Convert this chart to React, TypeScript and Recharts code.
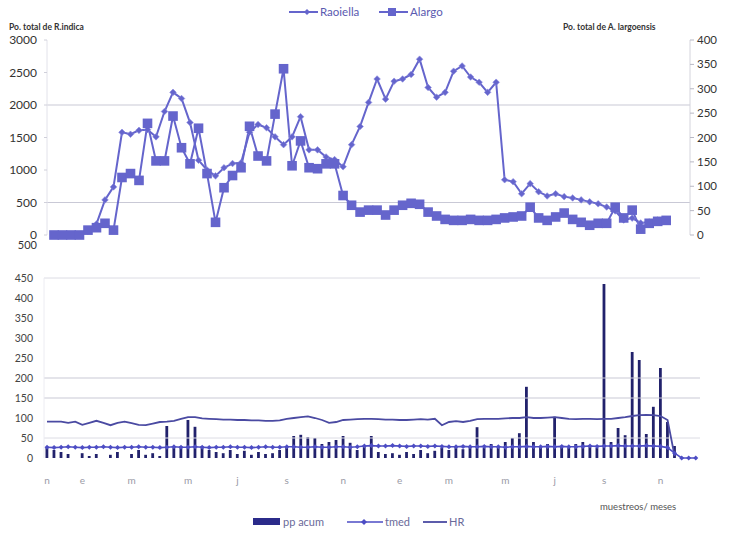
import React from 'react';
import { LineChart, ComposedChart, Line, Bar, XAxis, YAxis, ReferenceLine } from 'recharts';

// Población total por muestreo (R. indica en eje izquierdo, A. largoensis en eje derecho)
const raoiella = [
  0, 0, 0, 0, 60, 170, 540, 740, 1580, 1550, 1610, 1620, 1510, 1900, 2195, 2100, 1730, 1150, 1000, 910,
  1035, 1100, 1110, 1580, 1700, 1650, 1510, 1390, 1510, 1820, 1310, 1310, 1200, 1160, 1050, 1390, 1670, 2040, 2400, 2090,
  2365, 2400, 2470, 2705, 2270, 2120, 2195, 2520, 2600, 2430, 2350, 2195, 2350, 850, 820, 635, 790, 665, 600, 635,
  590, 570, 540, 510, 480, 430, 370, 230, 260, 185, 200, 230, 230,
];
const alargo = [
  0, 0, 0, 0, 10, 15, 24, 10, 118, 126, 112, 229, 152, 152, 244, 179, 146, 219, 126, 26,
  97, 122, 138, 223, 162, 152, 248, 341, 142, 193, 138, 136, 146, 146, 81, 61, 47, 51, 51, 41,
  51, 61, 65, 63, 47, 39, 32, 30, 30, 32, 30, 30, 32, 35, 37, 39, 57, 35, 30, 37,
  45, 32, 26, 20, 24, 24, 57, 35, 51, 12, 24, 28, 30,
];

// Variables climáticas por muestreo
const ppAcum = [
  25, 20, 15, 10, 0, 12, 5, 10, 0, 8, 15, 0, 10, 20, 8, 12, 5, 80, 25, 30,
  95, 78, 30, 20, 15, 12, 20, 10, 18, 8, 15, 10, 12, 20, 30, 55, 58, 52, 50, 35,
  40, 45, 55, 38, 20, 30, 55, 15, 10, 12, 8, 15, 10, 20, 12, 18, 25, 20, 30, 22,
  28, 77, 25, 35, 30, 40, 50, 62, 178, 40, 30, 35, 103, 30, 25, 35, 40, 30, 25, 435,
  40, 75, 57, 265, 245, 60, 128, 225, 90, 30, 0, 0, 0,
];
const tmed = [
  27, 26, 27, 28, 27, 26, 27, 27, 28, 27, 26, 27, 27, 28, 27, 27, 26, 27, 28, 27,
  27, 28, 27, 26, 27, 27, 28, 27, 27, 26, 27, 28, 27, 27, 28, 28, 27, 27, 28, 27,
  27, 28, 28, 27, 28, 30, 31, 30, 30, 31, 30, 29, 30, 30, 29, 30, 29, 28, 28, 29,
  28, 28, 29, 28, 28, 27, 28, 28, 29, 28, 28, 29, 28, 29, 28, 28, 29, 30, 29, 30,
  30, 31, 30, 30, 30, 31, 30, 29, 26, 12, 0, 0, 0,
];
const hr: (number | null)[] = [
  91, 91, 91, 88, 91, 83, 88, 93, 88, 82, 88, 91, 87, 83, 82, 86, 90, 91, 93, 98,
  102, 102, 99, 98, 97, 96, 96, 95, 95, 94, 94, 93, 93, 94, 98, 100, 102, 104, 100, 95,
  88, 90, 95, 96, 97, 98, 98, 97, 96, 96, 95, 95, 96, 97, 96, 98, 82, 90, 92, 90,
  93, 97, 98, 98, 98, 99, 100, 100, 102, 100, 100, 101, 102, 100, 98, 97, 98, 98, 97, 98,
  98, 100, 102, 105, 107, 108, 107, 105, 95, 5, null, null, null,
];

const monthLabels = ['n', 'e', 'm', 'm', 'j', 's', 'n', 'e', 'm', 'm', 'j', 's', 'n'];
const monthStartSample = [0, 5, 12, 20, 27, 34, 42, 50, 57, 65, 72, 79, 87];

const leftTicks = [0, 500, 1000, 1500, 2000, 2500, 3000];
const rightTicks = [0, 50, 100, 150, 200, 250, 300, 350, 400];
const lowerTicks = [0, 50, 100, 150, 200, 250, 300, 350, 400, 450];

const populationData = raoiella.map((r, i) => ({ idx: i, raoiella: r, alargo: alargo[i] }));
const climateData = ppAcum.map((p, i) => ({ idx: i, pp: p, tmed: tmed[i], hr: hr[i] ?? null }));

const FONT = 'Lato, "Open Sans", sans-serif';
const LINE_BLUE = '#6565cc';
const TMED_BLUE = '#4d4dc4';
const HR_BLUE = '#4a4aa2';
const PP_NAVY = '#22226c';
const GRID = '#c9c9d6';

const diamondPath = (cx: number, cy: number, r: number) =>
  `M${cx},${cy - r}L${cx + r},${cy}L${cx},${cy + r}L${cx - r},${cy}Z`;

const RaoiellaDot = (props: any) => {
  const { cx, cy, index } = props;
  if (cx == null || cy == null) return <g key={`rd-${index}`} />;
  return <path key={`rd-${index}`} d={diamondPath(cx, cy, 3.3)} fill={LINE_BLUE} stroke="#8c8ce0" strokeWidth={0.6} />;
};

const AlargoDot = (props: any) => {
  const { cx, cy, index } = props;
  if (cx == null || cy == null) return <g key={`ad-${index}`} />;
  return <rect key={`ad-${index}`} x={cx - 4.8} y={cy - 4.8} width={9.6} height={9.6} fill={LINE_BLUE} />;
};

const TmedDot = (props: any) => {
  const { cx, cy, index } = props;
  if (cx == null || cy == null) return <g key={`td-${index}`} />;
  return <path key={`td-${index}`} d={diamondPath(cx, cy, 2.5)} fill={TMED_BLUE} />;
};

export default function App() {
  return (
    <div style={{ position: 'absolute', left: 0, top: 0, width: 729, height: 534, background: '#fff', fontFamily: FONT }}>
      <div style={{ position: 'absolute', left: 0, top: 0 }}>
        <LineChart width={729} height={250} data={populationData} margin={{ top: 40, right: 0, bottom: 15, left: 7 }}>
          <XAxis dataKey="idx" type="number" domain={[-0.82, 74.8]} allowDataOverflow hide />
          <YAxis
            yAxisId="left"
            orientation="left"
            width={40}
            domain={[0, 3000]}
            ticks={leftTicks}
            interval={0}
            axisLine={{ stroke: '#e2e2ea' }}
            tickLine={{ stroke: '#d0d0da' }}
            tickSize={3}
            tickMargin={7}
            tick={{ fill: '#333', fontSize: 12, fontFamily: FONT }}
          />
          <YAxis
            yAxisId="right"
            orientation="right"
            width={39}
            domain={[0, 400]}
            ticks={rightTicks}
            interval={0}
            axisLine={{ stroke: '#d4d4dc' }}
            tickLine={{ stroke: '#b8b8c4' }}
            tickSize={4}
            tickMargin={3}
            tick={{ fill: '#333', fontSize: 11.5, fontFamily: FONT }}
          />
          <ReferenceLine yAxisId="left" y={2000} stroke={GRID} strokeWidth={1.2} />
          <ReferenceLine yAxisId="left" y={500} stroke={GRID} strokeWidth={1.2} />
          <Line
            yAxisId="left"
            dataKey="raoiella"
            stroke={LINE_BLUE}
            strokeWidth={2}
            dot={RaoiellaDot}
            activeDot={false}
            isAnimationActive={false}
          />
          <Line
            yAxisId="right"
            dataKey="alargo"
            stroke={LINE_BLUE}
            strokeWidth={2}
            dot={AlargoDot}
            activeDot={false}
            isAnimationActive={false}
          />
        </LineChart>
      </div>

      <div style={{ position: 'absolute', left: 0, top: 255 }}>
        <ComposedChart width={729} height={275} data={climateData} margin={{ top: 23, right: 29, bottom: 42, left: 0 }}>
          <XAxis
            dataKey="idx"
            type="number"
            domain={[-0.43, 92.6]}
            allowDataOverflow
            ticks={monthStartSample}
            interval={0}
            tickFormatter={(v: number) => monthLabels[monthStartSample.indexOf(v)] ?? ''}
            axisLine={false}
            tickLine={false}
            tickSize={0}
            tickMargin={19}
            height={30}
            tick={{ fill: '#9a9aa6', fontSize: 10, fontFamily: FONT }}
          />
          <YAxis
            width={44}
            domain={[0, 450]}
            ticks={lowerTicks}
            interval={0}
            axisLine={{ stroke: '#ececf2' }}
            tickLine={false}
            tickSize={0}
            tickMargin={11}
            tick={{ fill: '#444', fontSize: 10.5, fontFamily: FONT }}
          />
          <ReferenceLine y={450} stroke="#dcdce4" strokeWidth={1} />
          <ReferenceLine y={200} stroke={GRID} strokeWidth={1.2} />
          <ReferenceLine y={150} stroke={GRID} strokeWidth={1.2} />
          <ReferenceLine y={50} stroke="#dcdce4" strokeWidth={1} />
          <Bar dataKey="pp" barSize={2.8} fill={PP_NAVY} isAnimationActive={false} />
          <Line
            dataKey="hr"
            stroke={HR_BLUE}
            strokeWidth={1.8}
            dot={false}
            activeDot={false}
            connectNulls={false}
            isAnimationActive={false}
          />
          <Line
            dataKey="tmed"
            stroke={TMED_BLUE}
            strokeWidth={1.6}
            dot={TmedDot}
            activeDot={false}
            isAnimationActive={false}
          />
        </ComposedChart>
      </div>

      <svg width={729} height={534} style={{ position: 'absolute', left: 0, top: 0, pointerEvents: 'none' }}>
        {/* Leyenda superior */}
        <g fontFamily={FONT} fontSize={11.5} fill="#5a5ab0">
          <line x1={289} y1={12} x2={318} y2={12} stroke={LINE_BLUE} strokeWidth={2} />
          <path d={diamondPath(307, 12, 3)} fill={LINE_BLUE} />
          <text x={320} y={16}>Raoiella</text>
          <line x1={379} y1={12} x2={408} y2={12} stroke={LINE_BLUE} strokeWidth={2} />
          <rect x={388} y={8} width={8} height={8} fill={LINE_BLUE} />
          <text x={410} y={16}>Alargo</text>
        </g>
        {/* Títulos de ejes */}
        <g fontFamily={FONT} fontSize={8.5} fontWeight={700} fill="#333">
          <text x={9} y={30}>Po. total de R.indica</text>
          <text x={563} y={30}>Po. total de A. largoensis</text>
        </g>
        <text x={37} y={249} textAnchor="end" fontFamily={FONT} fontSize={11} fill="#333">500</text>
        {/* Título del eje de muestreos */}
        <text x={600} y={510} fontFamily={FONT} fontSize={9.5} fill="#555">muestreos/ meses</text>
        {/* Leyenda inferior */}
        <g fontFamily={FONT} fontSize={11} fill="#6a6a9a">
          <rect x={253} y={518} width={27} height={7} fill="#2b2b8a" />
          <text x={283} y={526}>pp acum</text>
          <line x1={347} y1={522} x2={383} y2={522} stroke={TMED_BLUE} strokeWidth={1.6} />
          <path d={diamondPath(364, 522, 3)} fill={TMED_BLUE} />
          <text x={385} y={526}>tmed</text>
          <line x1={423} y1={522} x2={447} y2={522} stroke={HR_BLUE} strokeWidth={1.8} />
          <text x={449} y={526}>HR</text>
        </g>
      </svg>
    </div>
  );
}
